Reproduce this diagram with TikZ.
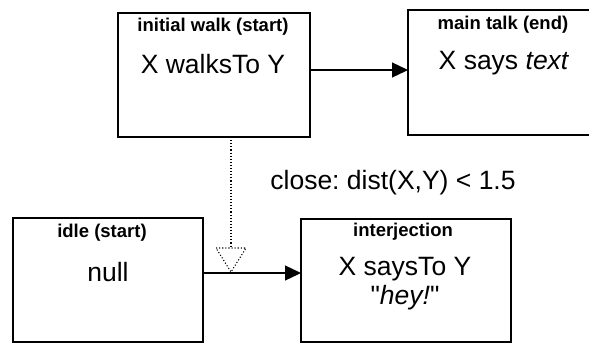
\documentclass[tikz,border=0pt]{standalone}
\usepackage{fontspec}
\setmainfont{Liberation Sans}
\usetikzlibrary{arrows.meta}
\begin{document}
\frenchspacing
\begin{tikzpicture}[x=1pt,y=-1pt,
  statebox/.style={draw=black, line width=1.3pt, rectangle, inner sep=0pt},
  title/.style={font=\fontsize{18.5}{21}\selectfont\bfseries, inner sep=0pt, anchor=center},
  body/.style={font=\fontsize{26.5}{29}\selectfont, inner sep=0pt, anchor=center, align=center},
  conn/.style={line width=1.3pt, -{Triangle[length=16pt,width=15pt]}},
  dotline/.style={line width=1.1pt, dotted}]
\clip (0,0) rectangle (589,343);
\useasboundingbox (0,0) rectangle (589,343);
% boxes
\draw[statebox] (118,13) rectangle (310,137);
\coordinate (b1e) at (310,70);
\coordinate (b1s) at (231,137);
\draw[statebox] (408,10) rectangle (600,135);
\coordinate (b2w) at (408,70);
\draw[statebox] (13,218) rectangle (203,342);
\coordinate (b3e) at (203,273);
\draw[statebox] (301,219) rectangle (511,342);
\coordinate (b4w) at (301,273);
% texts
\node[title] (t1) at (213,27) {initial walk (start)};
\node[body] (m1) at (213,64) {X walksTo Y};
\node[title] (t2) at (503,25) {main talk (end)};
\node[body] (m2) at (504,63) {X says \textit{text}};
\node[title] (t3) at (102,233) {idle (start)};
\node[body] (m3) at (108,272) {null};
\node[title] (t4) at (403,232) {interjection};
\node[body] (m4) at (405,284) {X saysTo Y\\\textquotedbl\textit{hey!}\textquotedbl};
\node[body] (lbl) at (393,183) {close: dist(X,Y) {<} 1.5};
% connectors
\draw[conn] (b1e) -- (b2w);
\draw[conn] (b3e) -- (b4w);
\coordinate (tri) at (231,248);
\draw[dotline] (b1s) -- (tri);
\draw[dotline] (216,248) -- (246,248) -- (231,272) -- cycle;
\end{tikzpicture}
\end{document}
